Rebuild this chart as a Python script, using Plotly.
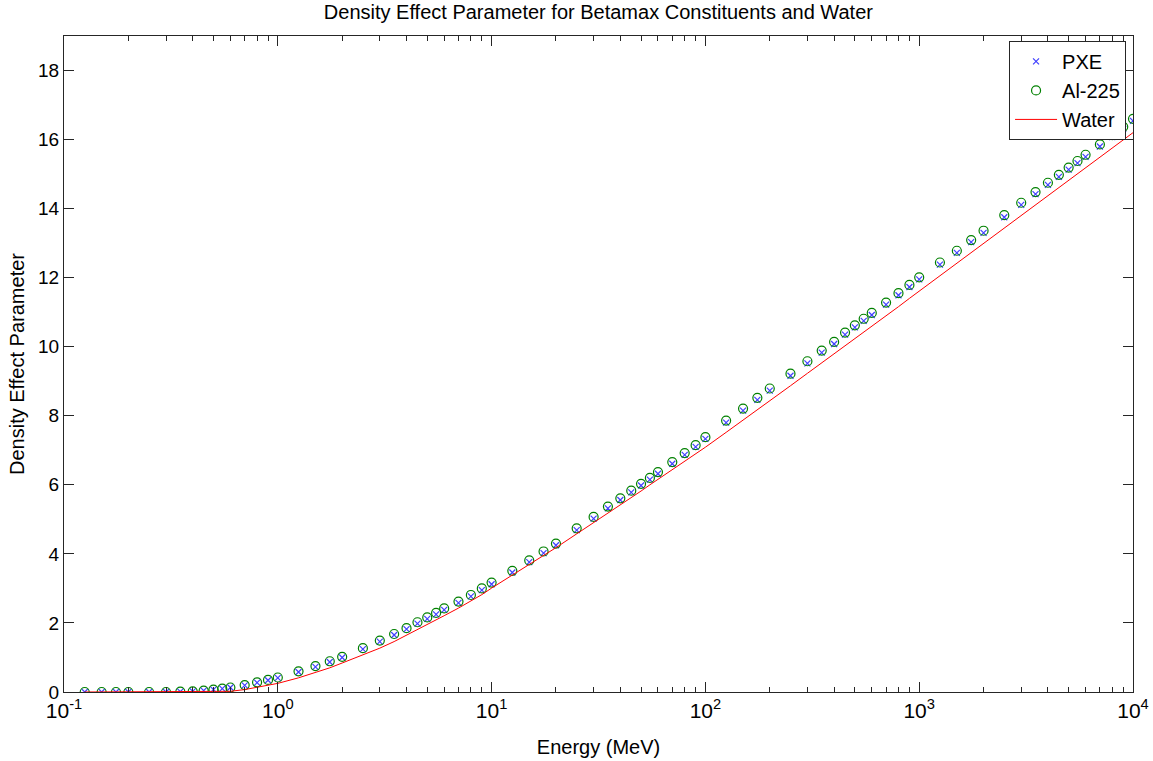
import plotly.graph_objects as go

energy = [0.125, 0.15, 0.175, 0.2, 0.25, 0.3, 0.35, 0.4, 0.45, 0.5, 0.55, 0.6, 0.7, 0.8, 0.9,
          1.0, 1.25, 1.5, 1.75, 2.0, 2.5, 3.0, 3.5, 4.0, 4.5, 5.0, 5.5, 6.0, 7.0, 8.0, 9.0,
          10, 12.5, 15, 17.5, 20, 25, 30, 35, 40, 45, 50, 55, 60, 70, 80, 90,
          100, 125, 150, 175, 200, 250, 300, 350, 400, 450, 500, 550, 600, 700, 800, 900,
          1000, 1250, 1500, 1750, 2000, 2500, 3000, 3500, 4000, 4500, 5000, 5500, 6000, 7000, 8000, 9000,
          10000]

al225 = [0, 0, 0, 0, 0, 0, 0.01, 0.02, 0.04, 0.07, 0.10, 0.13, 0.20, 0.28, 0.35,
         0.42, 0.60, 0.75, 0.89, 1.02, 1.27, 1.49, 1.68, 1.85, 2.02, 2.16, 2.29, 2.42, 2.62, 2.81, 3.00,
         3.17, 3.51, 3.81, 4.07, 4.30, 4.74, 5.07, 5.37, 5.61, 5.83, 6.03, 6.20, 6.37, 6.66, 6.92, 7.15,
         7.38, 7.86, 8.21, 8.52, 8.79, 9.22, 9.58, 9.89, 10.14, 10.41, 10.62, 10.81, 10.98, 11.28, 11.55, 11.79,
         12.01, 12.44, 12.78, 13.09, 13.36, 13.81, 14.17, 14.48, 14.75, 14.98, 15.19, 15.38, 15.56, 15.86, 16.13, 16.37,
         16.60]

pxe = [0, 0, 0, 0, 0, 0, 0.01, 0.02, 0.04, 0.07, 0.10, 0.13, 0.19, 0.27, 0.34,
       0.41, 0.58, 0.73, 0.87, 1.00, 1.24, 1.46, 1.65, 1.82, 1.98, 2.12, 2.25, 2.38, 2.58, 2.77, 2.95,
       3.12, 3.46, 3.76, 4.02, 4.25, 4.69, 5.02, 5.32, 5.56, 5.78, 5.98, 6.15, 6.32, 6.61, 6.87, 7.10,
       7.33, 7.80, 8.15, 8.46, 8.73, 9.16, 9.52, 9.83, 10.08, 10.35, 10.56, 10.75, 10.92, 11.22, 11.49, 11.73,
       11.95, 12.38, 12.72, 13.03, 13.30, 13.75, 14.11, 14.42, 14.69, 14.92, 15.13, 15.32, 15.50, 15.80, 16.07, 16.31,
       16.54]

water = [0, 0, 0, 0, 0, 0, 0, 0, 0, 0, 0.0, 0.02, 0.07, 0.13, 0.19,
         0.25, 0.41, 0.56, 0.70, 0.84, 1.07, 1.27, 1.46, 1.64, 1.80, 1.95, 2.08, 2.21, 2.43, 2.63, 2.82,
         3.01, 3.38, 3.69, 3.95, 4.18, 4.58, 4.90, 5.18, 5.42, 5.63, 5.82, 6.00, 6.16, 6.44, 6.68, 6.89,
         7.09, 7.52, 7.87, 8.17, 8.43, 8.87, 9.23, 9.53, 9.80, 10.03, 10.24, 10.43, 10.60, 10.90, 11.16, 11.40,
         11.61, 12.05, 12.41, 12.72, 12.98, 13.43, 13.79, 14.10, 14.37, 14.60, 14.81, 15.00, 15.18, 15.49, 15.75, 15.99,
         16.20]

x_tickvals = [0.1, 1, 10, 100, 1000, 10000]
x_ticktext = ["10<sup>-1</sup>", "10<sup>0</sup>", "10<sup>1</sup>", "10<sup>2</sup>", "10<sup>3</sup>", "10<sup>4</sup>"]
y_tickvals = [0, 2, 4, 6, 8, 10, 12, 14, 16, 18]

FONT = "Liberation Sans, Arial, sans-serif"

fig = go.Figure()
fig.add_trace(go.Scatter(x=energy, y=pxe, mode="markers", name="PXE",
                         marker=dict(symbol="x-thin-open", size=6, color="#4040ff",
                                     line=dict(width=1.2, color="#4040ff"))))
fig.add_trace(go.Scatter(x=energy, y=al225, mode="markers", name="Al-225",
                         marker=dict(symbol="circle-open", size=9, color="#008000",
                                     line=dict(width=1.2, color="#008000"))))
fig.add_trace(go.Scatter(x=energy, y=water, mode="lines", name="Water",
                         line=dict(color="#ff0000", width=1)))

axis_common = dict(showgrid=False, zeroline=False, showline=True, linecolor="#262626",
                   linewidth=1, mirror="allticks", ticks="inside", tickcolor="#262626",
                   tickwidth=1, ticklen=10, automargin=False)

fig.update_layout(
    width=1153, height=761,
    margin=dict(l=64, r=20, t=36, b=69),
    paper_bgcolor="white", plot_bgcolor="white",
    font=dict(family=FONT, color="black"),
    title=dict(text="Density Effect Parameter for Betamax Constituents and Water",
               x=0.519, xanchor="center", y=0.984, yanchor="middle",
               font=dict(size=20, family=FONT, color="black")),
    xaxis=dict(type="log", range=[-1, 4], tickmode="array", tickvals=x_tickvals,
               ticktext=x_ticktext, tickfont=dict(size=21, family=FONT),
               title=dict(text="Energy (MeV)", font=dict(size=20, family=FONT), standoff=18),
               minor=dict(ticks="inside", ticklen=5, tickcolor="#262626", dtick="D1"),
               **axis_common),
    yaxis=dict(range=[0, 19], tickmode="array", tickvals=y_tickvals,
               tickfont=dict(size=19, family=FONT),
               title=dict(text="Density Effect Parameter", font=dict(size=20, family=FONT), standoff=8),
               **axis_common),
    legend=dict(x=0.9935, xanchor="right", y=0.9925, yanchor="top",
                bgcolor="white", bordercolor="#262626", borderwidth=1,
                font=dict(size=20, family=FONT), tracegroupgap=0, itemwidth=42),
    showlegend=True,
)

fig.write_html("out.html", config={"displayModeBar": False},
               post_script="document.body.style.margin='0px';document.body.style.overflow='hidden';")
